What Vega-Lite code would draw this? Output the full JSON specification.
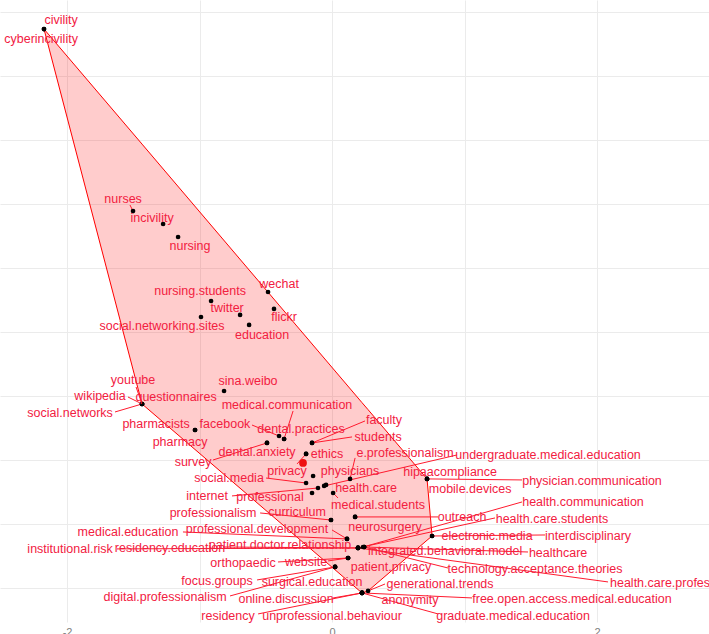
{
  "$schema": "https://vega.github.io/schema/vega-lite/v6.json",
  "width": 709,
  "height": 622,
  "autosize": {"type": "none"},
  "padding": {"left": 0, "top": 0, "right": 0, "bottom": 12},
  "background": "white",
  "config": {"view": {"stroke": null}, "font": "Liberation Sans"},
  "datasets": {
    "hull": [
      {"x": -2.174, "yu": 3.367, "yl": 3.367},
      {"x": -1.434, "yu": 2.468, "yl": 0.4375},
      {"x": 0.226, "yu": 0.448, "yl": -1.039},
      {"x": 0.272, "yu": 0.393, "yl": -1.023},
      {"x": 0.717, "yu": -0.148, "yl": -0.627},
      {"x": 0.755, "yu": -0.594, "yl": -0.594}
    ],
    "center": [{"x": -0.219, "y": -0.023}],
    "labels": [
      {"name": "civility", "x": -2.174, "y": 3.367, "lx": -2.045, "ly": 3.438},
      {"name": "cyberincivility", "x": -2.174, "y": 3.367, "lx": -2.196, "ly": 3.289},
      {"name": "nurses", "x": -1.502, "y": 1.945, "lx": -1.577, "ly": 2.039, "ex": -1.525, "ey": 1.992},
      {"name": "incivility", "x": -1.275, "y": 1.844, "lx": -1.358, "ly": 1.891},
      {"name": "nursing", "x": -1.162, "y": 1.742, "lx": -1.072, "ly": 1.672},
      {"name": "wechat", "x": -0.483, "y": 1.3125, "lx": -0.4, "ly": 1.375},
      {"name": "nursing.students", "x": -0.913, "y": 1.242, "lx": -0.996, "ly": 1.32},
      {"name": "flickr", "x": -0.438, "y": 1.18, "lx": -0.362, "ly": 1.117},
      {"name": "twitter", "x": -0.694, "y": 1.133, "lx": -0.792, "ly": 1.188},
      {"name": "social.networking.sites", "x": -0.989, "y": 1.117, "lx": -1.283, "ly": 1.047},
      {"name": "education", "x": -0.626, "y": 1.055, "lx": -0.528, "ly": 0.977},
      {"name": "youtube", "x": -1.434, "y": 0.4375, "lx": -1.502, "ly": 0.625, "ex": -1.479, "ey": 0.57},
      {"name": "wikipedia", "x": -1.434, "y": 0.4375, "lx": -1.751, "ly": 0.5, "ex": -1.54, "ey": 0.492},
      {"name": "questionnaires", "x": -1.434, "y": 0.4375, "lx": -1.177, "ly": 0.492},
      {"name": "social.networks", "x": -1.434, "y": 0.4375, "lx": -1.977, "ly": 0.367, "ex": -1.638, "ey": 0.375},
      {"name": "sina.weibo", "x": -0.815, "y": 0.539, "lx": -0.634, "ly": 0.617},
      {"name": "pharmacists", "x": -1.034, "y": 0.234, "lx": -1.328, "ly": 0.281},
      {"name": "pharmacy", "x": -1.034, "y": 0.234, "lx": -1.147, "ly": 0.141},
      {"name": "medical.communication", "x": -0.362, "y": 0.164, "lx": -0.34, "ly": 0.43, "ex": -0.294, "ey": 0.383},
      {"name": "facebook", "x": -0.4, "y": 0.1875, "lx": -0.808, "ly": 0.281, "ex": -0.604, "ey": 0.273},
      {"name": "dental.practices", "x": -0.362, "y": 0.164, "lx": -0.234, "ly": 0.242},
      {"name": "dental.anxiety", "x": -0.491, "y": 0.133, "lx": -0.566, "ly": 0.0625},
      {"name": "survey", "x": -0.491, "y": 0.133, "lx": -1.049, "ly": -0.016, "ex": -0.898, "ey": 0.0},
      {"name": "faculty", "x": -0.151, "y": 0.133, "lx": 0.392, "ly": 0.3125, "ex": 0.249, "ey": 0.305},
      {"name": "students", "x": -0.151, "y": 0.133, "lx": 0.347, "ly": 0.18, "ex": 0.151, "ey": 0.18},
      {"name": "ethics", "x": -0.196, "y": 0.047, "lx": -0.038, "ly": 0.047},
      {"name": "privacy", "x": -0.196, "y": 0.047, "lx": -0.34, "ly": -0.086, "ex": -0.264, "ey": -0.031},
      {"name": "e.professionalism", "x": 0.136, "y": -0.148, "lx": 0.551, "ly": 0.055, "ex": 0.174, "ey": 0.016},
      {"name": "physicians", "x": -0.143, "y": -0.125, "lx": 0.136, "ly": -0.086},
      {"name": "social.media", "x": -0.196, "y": -0.18, "lx": -0.777, "ly": -0.141, "ex": -0.498, "ey": -0.141},
      {"name": "internet", "x": -0.106, "y": -0.219, "lx": -0.943, "ly": -0.281, "ex": -0.755, "ey": -0.281},
      {"name": "professional", "x": -0.151, "y": -0.258, "lx": -0.468, "ly": -0.289},
      {"name": "health.care", "x": -0.045, "y": -0.195, "lx": 0.257, "ly": -0.219},
      {"name": "undergraduate.medical.education", "x": -0.06, "y": -0.203, "lx": 1.63, "ly": 0.039, "ex": 0.943, "ey": 0.039},
      {"name": "hipaacompliance", "x": 0.717, "y": -0.148, "lx": 0.891, "ly": -0.094},
      {"name": "physician.communication", "x": 0.717, "y": -0.148, "lx": 1.962, "ly": -0.164, "ex": 1.434, "ey": -0.156},
      {"name": "mobile.devices", "x": 0.717, "y": -0.148, "lx": 1.042, "ly": -0.227},
      {"name": "medical.students", "x": 0.008, "y": -0.258, "lx": 0.347, "ly": -0.352, "ex": 0.045, "ey": -0.297},
      {"name": "curriculum", "x": -0.008, "y": -0.469, "lx": -0.264, "ly": -0.406},
      {"name": "professionalism", "x": -0.008, "y": -0.469, "lx": -0.898, "ly": -0.414, "ex": -0.543, "ey": -0.414},
      {"name": "neurosurgery", "x": 0.174, "y": -0.445, "lx": 0.4, "ly": -0.523},
      {"name": "outreach", "x": 0.174, "y": -0.445, "lx": 0.981, "ly": -0.445, "ex": 0.8, "ey": -0.445},
      {"name": "health.communication", "x": 0.234, "y": -0.68, "lx": 1.894, "ly": -0.328, "ex": 1.434, "ey": -0.328},
      {"name": "health.care.students", "x": 0.196, "y": -0.6875, "lx": 1.66, "ly": -0.461, "ex": 1.23, "ey": -0.453},
      {"name": "electronic.media", "x": 0.755, "y": -0.594, "lx": 1.17, "ly": -0.594},
      {"name": "interdisciplinary", "x": 0.755, "y": -0.594, "lx": 1.932, "ly": -0.594, "ex": 1.608, "ey": -0.586},
      {"name": "medical.education", "x": 0.113, "y": -0.617, "lx": -1.54, "ly": -0.5625, "ex": -1.125, "ey": -0.5625},
      {"name": "professional.development", "x": 0.113, "y": -0.617, "lx": -0.566, "ly": -0.539, "ex": 0.0, "ey": -0.547},
      {"name": "patient.doctor.relationship", "x": 0.196, "y": -0.6875, "lx": -0.392, "ly": -0.664},
      {"name": "residency.education", "x": 0.196, "y": -0.6875, "lx": -1.223, "ly": -0.6875, "ex": -0.823, "ey": -0.68},
      {"name": "institutional.risk", "x": 0.196, "y": -0.6875, "lx": -1.977, "ly": -0.695, "ex": -1.623, "ey": -0.695},
      {"name": "integrated.behavioral.model", "x": 0.242, "y": -0.68, "lx": 0.853, "ly": -0.711},
      {"name": "healthcare", "x": 0.242, "y": -0.68, "lx": 1.706, "ly": -0.727, "ex": 1.479, "ey": -0.719},
      {"name": "technology.acceptance.theories", "x": 0.242, "y": -0.68, "lx": 1.532, "ly": -0.852, "ex": 0.875, "ey": -0.844},
      {"name": "health.care.professionalism", "x": 0.196, "y": -0.6875, "lx": 2.672, "ly": -0.961, "ex": 2.083, "ey": -0.953},
      {"name": "website", "x": 0.121, "y": -0.766, "lx": -0.196, "ly": -0.797, "ex": -0.03, "ey": -0.789},
      {"name": "orthopaedic", "x": 0.121, "y": -0.766, "lx": -0.672, "ly": -0.805, "ex": -0.408, "ey": -0.797},
      {"name": "patient.privacy", "x": 0.121, "y": -0.766, "lx": 0.445, "ly": -0.836},
      {"name": "surgical.education", "x": 0.023, "y": -0.836, "lx": -0.151, "ly": -0.953},
      {"name": "focus.groups", "x": 0.023, "y": -0.836, "lx": -0.868, "ly": -0.945, "ex": -0.566, "ey": -0.9375},
      {"name": "digital.professionalism", "x": 0.023, "y": -0.836, "lx": -1.26, "ly": -1.07, "ex": -0.77, "ey": -1.0625},
      {"name": "online.discussion", "x": 0.226, "y": -1.039, "lx": -0.347, "ly": -1.086, "ex": 0.008, "ey": -1.078},
      {"name": "residency", "x": 0.226, "y": -1.039, "lx": -0.785, "ly": -1.219, "ex": -0.558, "ey": -1.203},
      {"name": "unprofessional.behaviour", "x": 0.226, "y": -1.039, "lx": 0.0, "ly": -1.219},
      {"name": "generational.trends", "x": 0.272, "y": -1.023, "lx": 0.815, "ly": -0.969, "ex": 0.4, "ey": -0.969},
      {"name": "anonymity", "x": 0.226, "y": -1.039, "lx": 0.589, "ly": -1.094},
      {"name": "free.open.access.medical.education", "x": 0.226, "y": -1.039, "lx": 1.811, "ly": -1.086, "ex": 1.057, "ey": -1.078},
      {"name": "graduate.medical.education", "x": 0.226, "y": -1.039, "lx": 1.366, "ly": -1.219, "ex": 0.8, "ey": -1.203}
    ]
  },
  "layer": [
    {
      "data": {"name": "hull"},
      "mark": {"type": "area", "fill": "#ff0000", "fillOpacity": 0.2, "stroke": "#ff0000", "strokeWidth": 1, "clip": true},
      "encoding": {
        "x": {
          "field": "x", "type": "quantitative",
          "scale": {"domain": [-2.506, 2.845], "nice": false, "zero": false},
          "axis": {
            "values": [-2, -1, 0, 1, 2],
            "labelExpr": "datum.value % 2 == 0 ? '' + datum.value : ''",
            "grid": true, "gridColor": "#ebebeb", "gridWidth": 1,
            "domain": false, "ticks": false, "title": null,
            "labelColor": "#7f7f7f", "labelFontSize": 11, "labelPadding": 4, "labelFont": "Liberation Sans"
          }
        },
        "y": {
          "field": "yu", "type": "quantitative",
          "scale": {"domain": [-1.266, 3.594], "nice": false, "zero": false},
          "axis": {
            "values": [-1, -0.5, 0, 0.5, 1, 1.5, 2, 2.5, 3, 3.5],
            "labels": false, "grid": true, "gridColor": "#ebebeb", "gridWidth": 1,
            "domain": false, "ticks": false, "title": null
          }
        },
        "y2": {"field": "yl"}
      }
    },
    {
      "data": {"name": "labels"},
      "transform": [{"filter": "isValid(datum.ex)"}],
      "mark": {"type": "rule", "color": "#ff1a2e", "strokeWidth": 1},
      "encoding": {
        "x": {"field": "x", "type": "quantitative"},
        "y": {"field": "y", "type": "quantitative"},
        "x2": {"field": "ex"},
        "y2": {"field": "ey"}
      }
    },
    {
      "data": {"name": "labels"},
      "mark": {"type": "circle", "color": "black", "opacity": 1, "size": 22},
      "encoding": {
        "x": {"field": "x", "type": "quantitative"},
        "y": {"field": "y", "type": "quantitative"}
      }
    },
    {
      "data": {"name": "center"},
      "mark": {"type": "circle", "color": "#ee1111", "opacity": 1, "size": 60},
      "encoding": {
        "x": {"field": "x", "type": "quantitative"},
        "y": {"field": "y", "type": "quantitative"}
      }
    },
    {
      "data": {"name": "labels"},
      "mark": {"type": "text", "color": "#f2203f", "fontSize": 12.5, "font": "Liberation Sans", "align": "center", "baseline": "middle"},
      "encoding": {
        "x": {"field": "lx", "type": "quantitative"},
        "y": {"field": "ly", "type": "quantitative"},
        "text": {"field": "name"}
      }
    }
  ]
}
